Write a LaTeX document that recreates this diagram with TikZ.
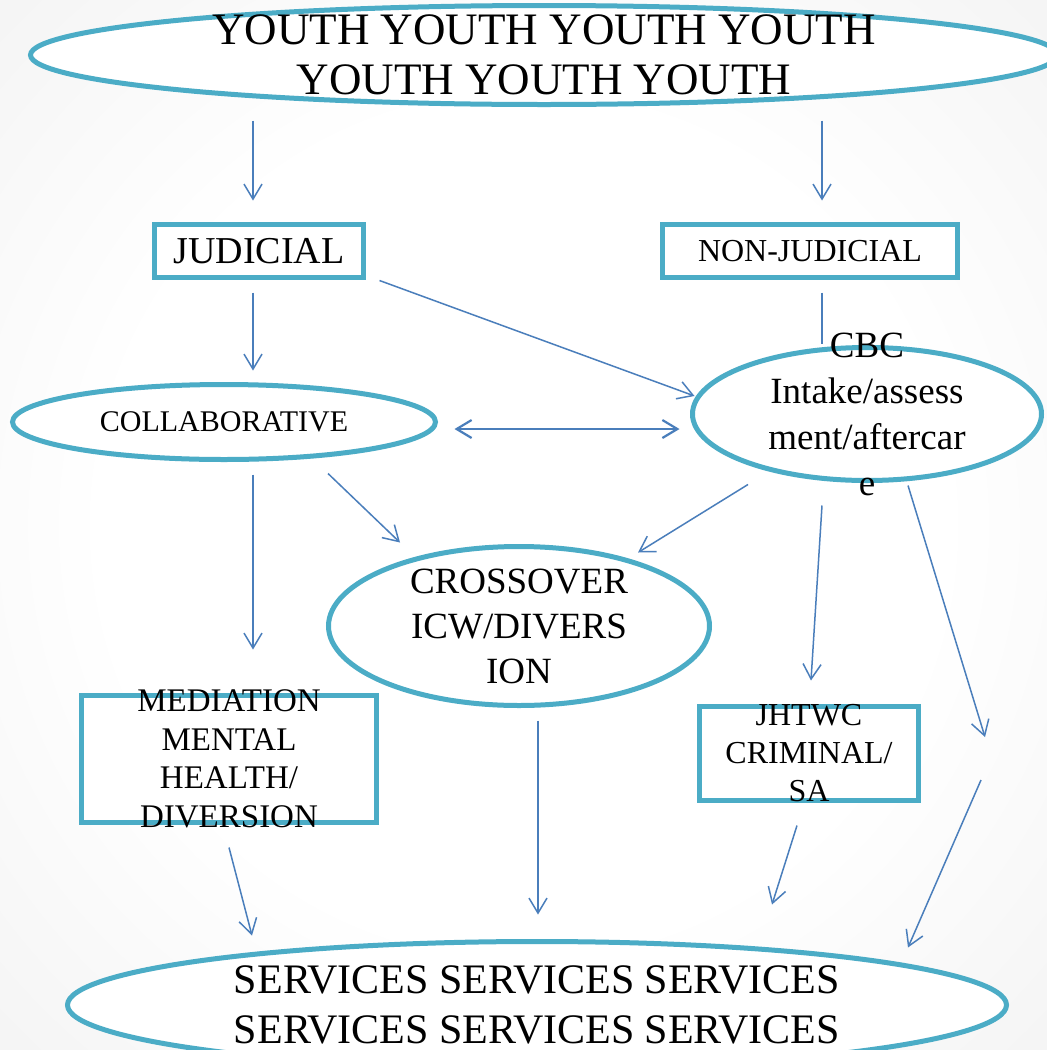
\documentclass[tikz,border=0pt]{standalone}
\usepackage{fontspec}
\setmainfont{Liberation Serif}
\usetikzlibrary{shapes.geometric,arrows.meta,calc}

\definecolor{ovalteal}{HTML}{4BACC6}
\definecolor{arrowblue}{HTML}{4A7EBB}
\pgfdeclareradialshading{vignette}{\pgfpoint{0bp}{0bp}}{color(0bp)=(white); color(20bp)=(white); color(50bp)=(black!8); color(71bp)=(black!13)}

\begin{document}
\begin{tikzpicture}
		[
			x=1pt, y=-1pt,
			align=center,
			>={Straight Barb[length=15pt,width=18pt]},
			oval/.style={ellipse, draw=ovalteal, line width=5pt, fill=white, inner sep=0pt, inner ysep=-300pt},
			panel/.style={rectangle, draw=ovalteal, line width=5pt, fill=white, inner sep=0pt, inner ysep=-300pt},
			arrow/.style={->, draw=arrowblue, line width=1.5pt},
			link/.style={-, draw=arrowblue, line width=1.5pt}
		]

		% page
		\fill[shading=vignette] (0,0) rectangle (1047,1050);
		\useasboundingbox (0,0) rectangle (1047,1050);

		% shapes
		\node[oval, minimum width=1027pt, minimum height=99pt, font=\fontsize{45}{50}\selectfont]
			(youth) at ( 544,   55 ) {YOUTH YOUTH YOUTH YOUTH\\YOUTH YOUTH YOUTH};
		\node[panel, minimum width=209pt, minimum height=53pt, font=\fontsize{38}{44}\selectfont]
			(judicial) at ( 259,  251 ) {JUDICIAL};
		\node[panel, minimum width=295pt, minimum height=53pt, font=\fontsize{32}{38}\selectfont]
			(nonjud) at ( 810,  251 ) {NON-JUDICIAL};
		\node[oval, minimum width=423pt, minimum height=75pt, font=\fontsize{30}{36}\selectfont]
			(collab) at ( 224,  422 ) {COLLABORATIVE};
		\node[oval, minimum width=349pt, minimum height=133pt, font=\fontsize{37}{46}\selectfont]
			(cbc) at ( 867,  414 ) {CBC\\Intake/assess\\ment/aftercar\\e};
		\node[oval, minimum width=381pt, minimum height=159pt, font=\fontsize{37}{45}\selectfont]
			(crossover) at ( 519,  626 ) {CROSSOVER\\ICW/DIVERS\\ION};
		\node[panel, minimum width=295pt, minimum height=127pt, font=\fontsize{33}{38.5}\selectfont]
			(mediation) at ( 229,  759 ) {MEDIATION\\MENTAL\\HEALTH/\\DIVERSION};
		\node[panel, minimum width=219pt, minimum height=94pt, font=\fontsize{32}{38}\selectfont]
			(jhtwc) at ( 809,  753.5 ) {JHTWC\\CRIMINAL/\\SA};
		\node[oval, minimum width=939pt, minimum height=127pt, font=\fontsize{42}{50}\selectfont]
			(services) at ( 537, 1005 ) {SERVICES SERVICES SERVICES\\SERVICES SERVICES SERVICES};

		% free ends
		\coordinate (hopA) at ( 985, 737 );
		\coordinate (hopB) at ( 981, 780 );

		% arrows
		\draw[arrow] ($(judicial.north |- youth.south)+(-6,13.5)$) -- ($(judicial.north)+(-6,-21.5)$);
		\draw[arrow] ($(nonjud.north |- youth.south)+(12,13.5)$) -- ($(nonjud.north)+(12,-21.5)$);
		\draw[arrow] ($(judicial.south)+(-6,12.5)$) -- ($(collab.north -| judicial.south)+(-6,-11.5)$);
		\draw[arrow] ($(judicial.south east)+(13.5,0.5)$) -- ($(cbc.west)+(4.5,-18)$);
		\draw[arrow, <->, line width=2.2pt] ($(collab.east)+(16.5,7)$) -- ($(cbc.west)+(-10.5,15)$);
		\draw[link] ($(nonjud.south)+(12,12.5)$) -- ($(cbc.north)+(-45,-1)$);
		\draw[arrow] ($(collab.south)+(29,12.5)$) -- ($(mediation.north)+(24,-43.5)$);
		\draw[arrow] ($(collab.south)+(104,11.5)$) -- ($(crossover.north)+(-119,-1.5)$);
		\draw[arrow] ($(cbc.south)+(-119,1.5)$) -- ($(crossover.north)+(119,8.5)$);
		\draw[arrow] ($(cbc.south)+(-45,22.5)$) -- ($(jhtwc.north)+(2,-23.5)$);
		\draw[arrow] ($(cbc.south)+(41,2.5)$) -- (hopA);
		\draw[arrow] (hopB) -- ($(services.north)+(371,8.5)$);
		\draw[arrow] ($(mediation.south)+(0,22.5)$) -- ($(services.north)+(-285,-3.5)$);
		\draw[arrow] ($(crossover.south)+(19,12.5)$) -- ($(services.north)+(1,-24.5)$);
		\draw[arrow] ($(jhtwc.south)+(-12,22.5)$) -- ($(services.north)+(235,-34.5)$);

\end{tikzpicture}
\end{document}
